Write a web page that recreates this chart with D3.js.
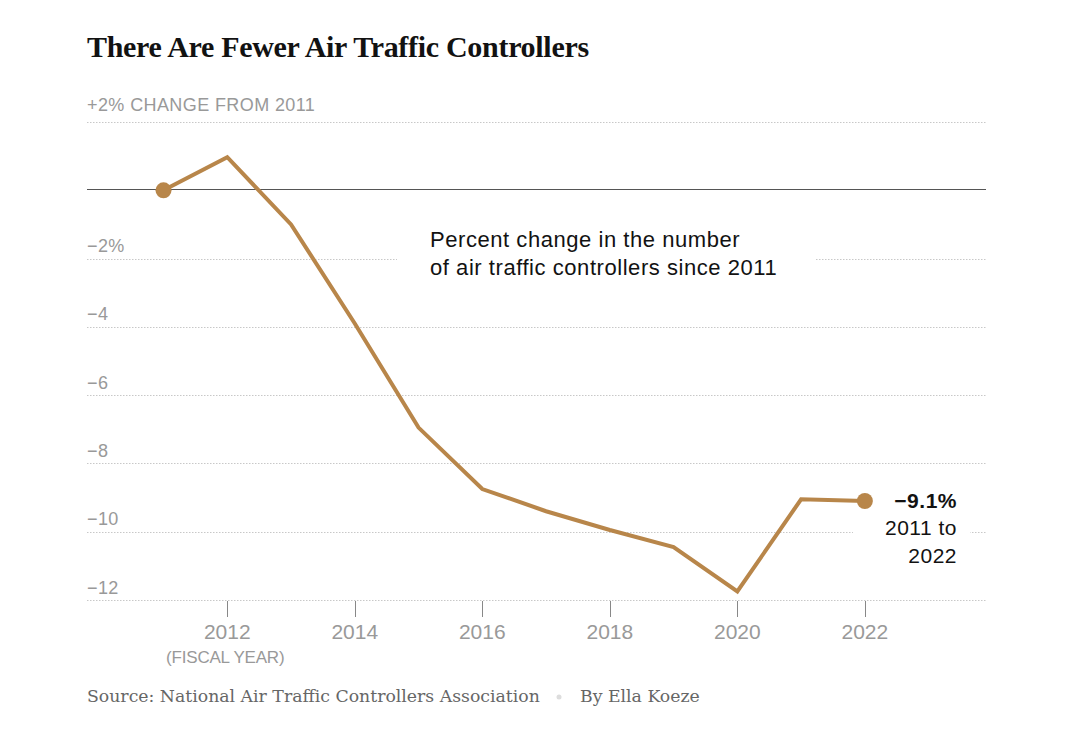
<!DOCTYPE html>
<html>
<head>
<meta charset="utf-8">
<script src="https://cdn.jsdelivr.net/npm/d3@7"></script>
<style>
  html, body { margin: 0; padding: 0; background: #fff; }
  svg { display: block; }
</style>
</head>
<body>
<svg id="chart" width="1065" height="731"></svg>
<script>
const years = [2011, 2012, 2013, 2014, 2015, 2016, 2017, 2018, 2019, 2020, 2021, 2022];
const pctChange = [0, 0.97, -1.0, -3.9, -6.95, -8.75, -9.4, -9.95, -10.45, -11.75, -9.05, -9.1];
const yTicks = [2, -2, -4, -6, -8, -10, -12];
const yTickLabels = ["+2% CHANGE FROM 2011", "\u22122%", "\u22124", "\u22126", "\u22128", "\u221210", "\u221212"];
const xTicks = [2012, 2014, 2016, 2018, 2020, 2022];
const xTickLabels = ["2012", "2014", "2016", "2018", "2020", "2022"];

const svg = d3.select("#chart");
const left = 87, right = 986;
const x = d3.scaleLinear().domain([2009.8, 2023.9]).range([left, right]);
const y = d3.scaleLinear().domain([2, -12]).range([122, 600]);
const lineColor = "#b8864a";
const sans = "'Liberation Sans', Arial, sans-serif";
const serif = "'Liberation Serif', 'DejaVu Serif', serif";

// Title
svg.append("text").attr("x", 87).attr("y", 57)
  .attr("font-family", serif).attr("font-weight", 700).attr("font-size", 30)
  .attr("fill", "#121212").attr("letter-spacing", "-0.3")
  .text("There Are Fewer Air Traffic Controllers");

// Gridlines
const grid = svg.append("g");
grid.selectAll("line").data(yTicks).join("line")
  .attr("x1", left).attr("x2", right)
  .attr("y1", d => Math.round(y(d)) + 0.5).attr("y2", d => Math.round(y(d)) + 0.5)
  .attr("stroke", "#c8c8c8").attr("stroke-width", 1).attr("stroke-dasharray", "1.5,1.5");

// Zero line
svg.append("line").attr("x1", left).attr("x2", right)
  .attr("y1", Math.round(y(0)) - 0.5).attr("y2", Math.round(y(0)) - 0.5)
  .attr("stroke", "#555").attr("stroke-width", 1);

// Y labels
svg.append("g").selectAll("text").data(yTicks).join("text")
  .attr("x", left).attr("y", (d, i) => y(d) - (i === 0 ? 11 : 6.5))
  .attr("font-family", sans).attr("font-size", 18).attr("fill", "#999")
  .attr("letter-spacing", "0.4")
  .text((d, i) => yTickLabels[i]);

// X ticks
const xg = svg.append("g");
xg.selectAll("line").data(xTicks).join("line")
  .attr("x1", d => Math.round(x(d)) + 0.5).attr("x2", d => Math.round(x(d)) + 0.5)
  .attr("y1", 601).attr("y2", 617)
  .attr("stroke", "#888").attr("stroke-width", 1);
xg.selectAll("text").data(xTicks).join("text")
  .attr("x", d => x(d)).attr("y", 639).attr("text-anchor", "middle")
  .attr("font-family", sans).attr("font-size", 21).attr("fill", "#999")
  .text((d, i) => xTickLabels[i]);
svg.append("text").attr("x", x(2012) - 2).attr("y", 663).attr("text-anchor", "middle")
  .attr("font-family", sans).attr("font-size", 17).attr("fill", "#999")
  .attr("letter-spacing", "-0.2")
  .text("(FISCAL YEAR)");

// Annotation (with white background knockout)
const ann = svg.append("g");
const annBg = ann.append("rect").attr("fill", "#fff");
const annText = ann.append("text").attr("font-family", sans).attr("font-size", 22)
  .attr("letter-spacing", "0.55").attr("fill", "#121212");
annText.append("tspan").attr("x", 430).attr("y", 247).text("Percent change in the number");
annText.append("tspan").attr("x", 430).attr("y", 275).text("of air traffic controllers since 2011");
annBg.attr("x", 397).attr("y", 225).attr("width", 418).attr("height", 60);

// Line
const line = d3.line().x((d, i) => x(years[i])).y(d => y(d));
svg.append("path").datum(pctChange)
  .attr("d", line).attr("fill", "none")
  .attr("stroke", lineColor).attr("stroke-width", 4).attr("stroke-linejoin", "miter");

// Dots at ends
const ends = [0, years.length - 1];
svg.append("g").selectAll("circle").data(ends).join("circle")
  .attr("cx", i => x(years[i])).attr("cy", i => y(pctChange[i])).attr("r", 8)
  .attr("fill", lineColor);

// End label
const endX = 957;
const lastY = y(pctChange[pctChange.length - 1]);
const endG = svg.append("g");
endG.append("rect").attr("x", 853).attr("y", lastY + 12).attr("width", 117).attr("height", 62).attr("fill", "#fff");
endG.append("text").attr("x", endX).attr("y", lastY + 7).attr("text-anchor", "end")
  .attr("font-family", sans).attr("font-weight", 700).attr("font-size", 21).attr("fill", "#121212")
  .attr("letter-spacing", "0.5")
  .text("\u22129.1%");
endG.append("text").attr("x", endX).attr("y", lastY + 34).attr("text-anchor", "end")
  .attr("font-family", sans).attr("font-size", 21).attr("fill", "#121212")
  .attr("letter-spacing", "0.5")
  .text("2011 to");
endG.append("text").attr("x", endX).attr("y", lastY + 62).attr("text-anchor", "end")
  .attr("font-family", sans).attr("font-size", 21).attr("fill", "#121212")
  .attr("letter-spacing", "0.5")
  .text("2022");

// Source line
const serif2 = "'DejaVu Serif', 'Liberation Serif', serif";
svg.append("text").attr("x", 87).attr("y", 702)
  .attr("font-family", serif2).attr("font-size", 17.3).attr("fill", "#666")
  .text("Source: National Air Traffic Controllers Association");
svg.append("circle").attr("cx", 559).attr("cy", 697).attr("r", 2.5).attr("fill", "#ddd");
svg.append("text").attr("x", 580).attr("y", 702)
  .attr("font-family", serif2).attr("font-size", 17.3).attr("fill", "#666")
  .text("By Ella Koeze");
</script>
</body>
</html>
